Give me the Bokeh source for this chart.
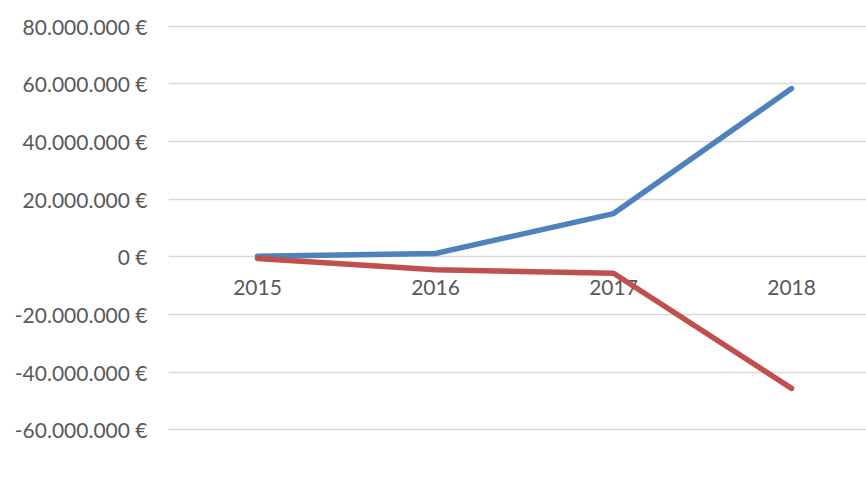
from bokeh.plotting import figure
from bokeh.models import Range1d, FixedTicker, Legend, LegendItem
from bokeh.core.properties import value
from bokeh.embed import file_html
from bokeh.resources import INLINE

years = ["2015", "2016", "2017", "2018"]
ingresos = [200000, 1150000, 15000000, 58400000]
resultado = [-600000, -4500000, -5700000, -45700000]
y_ticks = [-60000000, -40000000, -20000000, 0, 20000000, 40000000, 60000000, 80000000]

FONT = "Lato"
TXT = "#595959"

xs = list(range(len(years)))

p = figure(frame_width=698, frame_height=409, output_backend="svg", toolbar_location=None,
           x_axis_location=None,
           x_range=Range1d(-0.5, 3.421), y_range=Range1d(-61000000, 81000000),
           min_border_left=168, min_border_right=0, min_border_top=23, min_border_bottom=0)
p.outline_line_color = None
p.background_fill_color = "white"
p.border_fill_color = "white"

# grid
p.xgrid.grid_line_color = None
p.ygrid.grid_line_color = "#d9d9d9"
p.ygrid.grid_line_width = 1.5
p.yaxis.ticker = FixedTicker(ticks=y_ticks)

# y axis
p.yaxis.major_label_overrides = {v: (f"{v:,.0f}".replace(",", ".") + " €") for v in y_ticks}
p.yaxis.axis_line_color = None
p.yaxis.major_tick_line_color = None
p.yaxis.minor_tick_line_color = None
p.yaxis.major_label_standoff = 15
p.yaxis.major_label_text_font = FONT
p.yaxis.major_label_text_font_size = "21px"
p.yaxis.major_label_text_color = TXT

# category labels next to the zero line
p.text(x=xs, y=[0] * len(xs), text=years, y_offset=31, text_align="center",
       text_baseline="middle", text_font=value(FONT), text_font_size="21px", text_color=TXT)

r1 = p.line(xs, ingresos, line_color="#4f81bd", line_width=5.5, line_cap="round", line_join="round")
r2 = p.line(xs, resultado, line_color="#c0504d", line_width=5.5, line_cap="round", line_join="round")

legend = Legend(items=[LegendItem(label="Ingresos explotación", renderers=[r1]),
                       LegendItem(label="Resultado ejercicio", renderers=[r2])],
                orientation="horizontal", location=(7, 24),
                glyph_width=40, label_standoff=3, spacing=22, padding=0, margin=18,
                border_line_color=None, background_fill_alpha=0,
                label_text_font=FONT, label_text_font_size="17px", label_text_color=TXT)
p.add_layout(legend, "below")

open("out.html", "w").write(file_html(p, INLINE))
